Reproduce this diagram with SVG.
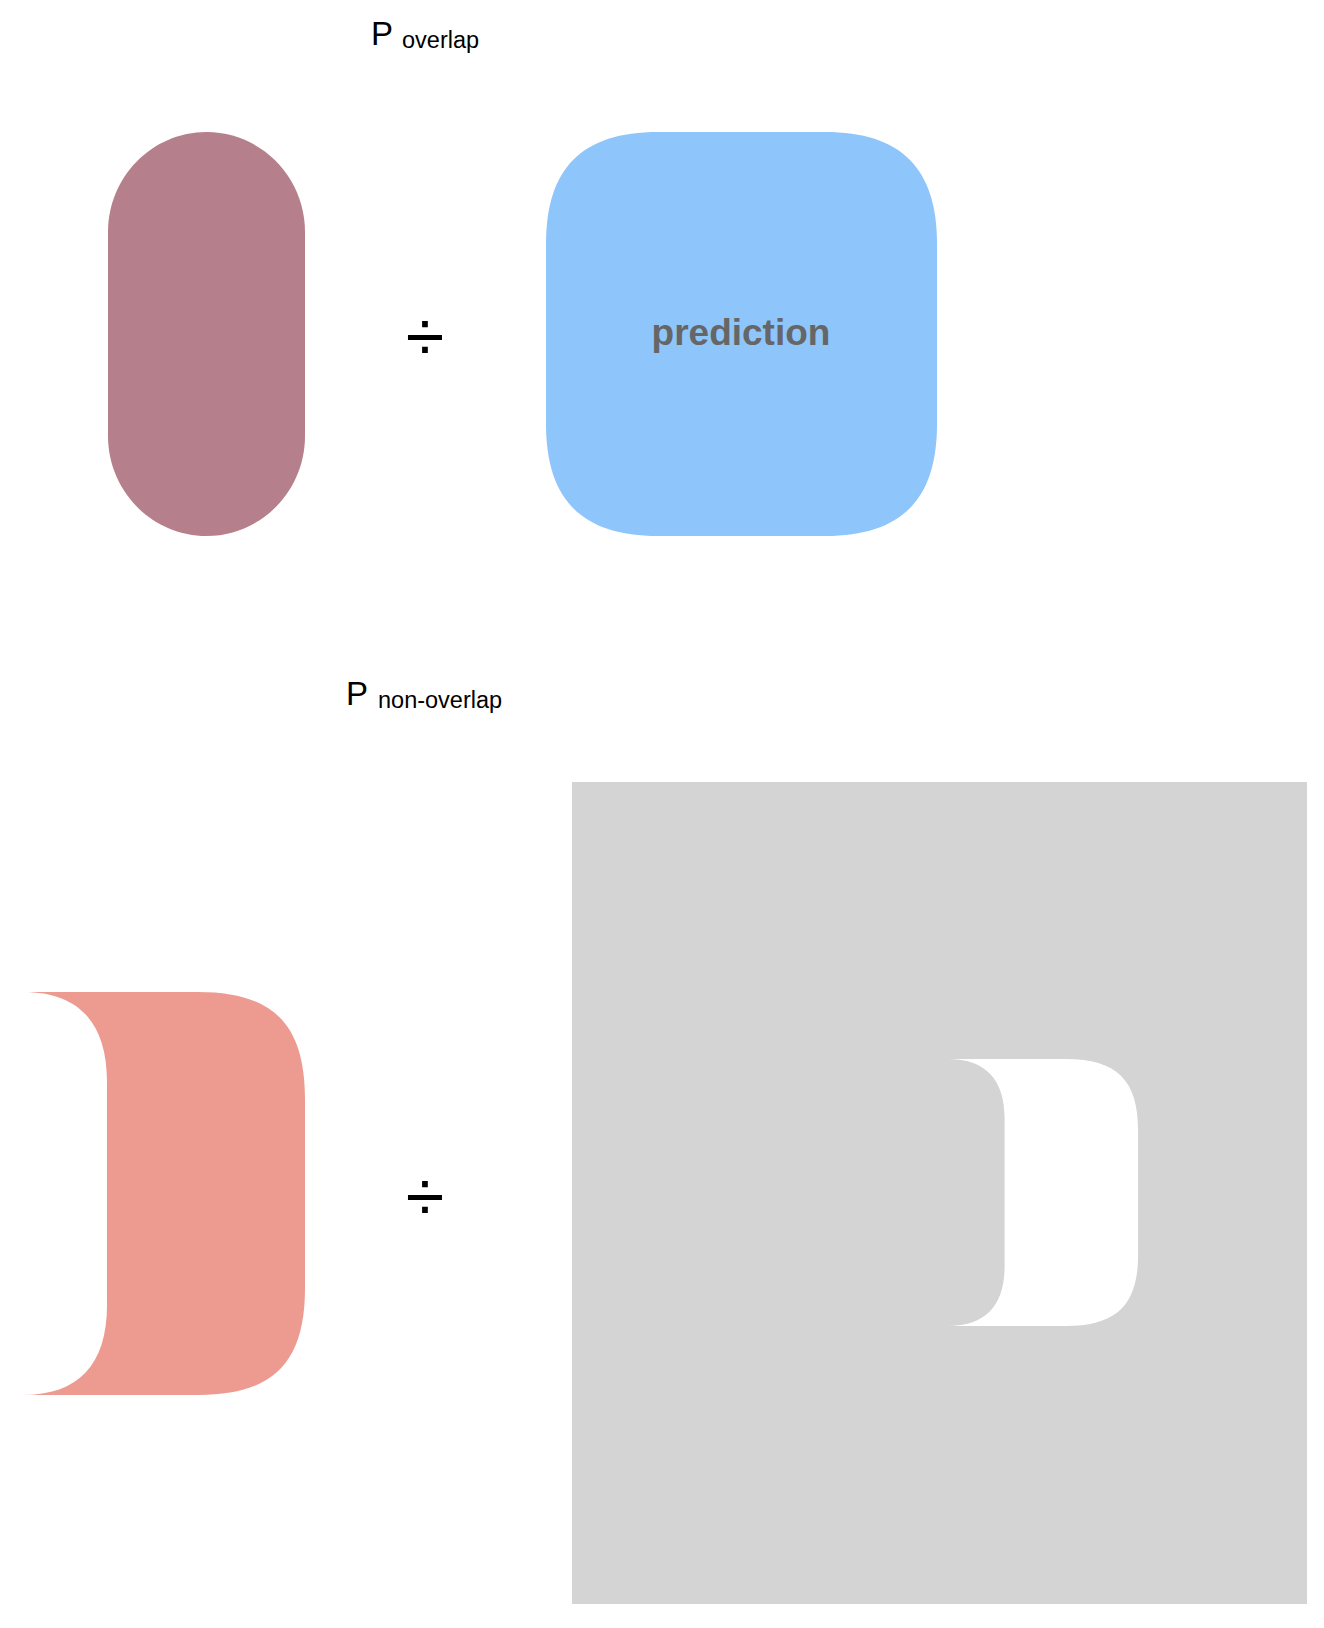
<svg xmlns="http://www.w3.org/2000/svg" width="1324" height="1628" viewBox="0 0 1324 1628">
<style>
  .t { font-family: "Liberation Sans", Arial, Helvetica, sans-serif; fill: #000; }
  .big { font-size: 33px; }
  .sub { font-size: 23.5px; }
  .div { font-size: 70px; text-anchor: middle; }
  .lbl { font-family: "Liberation Sans", Arial, Helvetica, sans-serif; font-size: 37px; font-weight: bold; fill: #666666; text-anchor: middle; }
</style>
<defs>
  <path id="crescent" d="M 23 992 L 198 992 C 273 992 305 1024 305 1099 L 305 1288 C 305 1363 273 1395 198 1395 L 23 1395 C 78 1395 107 1365 107 1305 L 107 1082 C 107 1022 78 992 23 992 Z"/>
</defs>
<rect width="1324" height="1628" fill="#ffffff"/>

<g id="title-overlap">
  <text class="t big" x="371" y="45">P</text>
  <text class="t sub" x="402" y="48">overlap</text>
</g>

<g id="overlap-region">
  <path d="M 206.5 132 C 261 132 305 177 305 232 L 305 436 C 305 491 261 536 206.5 536 C 152 536 108 491 108 436 L 108 232 C 108 177 152 132 206.5 132 Z" fill="#b57f8b"/>
</g>

<g id="divide-1">
  <text class="t div" x="425" y="361">÷</text>
</g>

<g id="prediction">
  <path d="M 658 132 L 825 132 C 901 132 937 168 937 244 L 937 424 C 937 500 901 536 825 536 L 658 536 C 582 536 546 500 546 424 L 546 244 C 546 168 582 132 658 132 Z" fill="#8ec5fa"/>
  <text class="lbl" x="741" y="345">prediction</text>
</g>

<g id="title-nonoverlap">
  <text class="t big" x="346" y="705">P</text>
  <text class="t sub" x="378" y="708">non-overlap</text>
</g>

<g id="nonoverlap-region">
  <use href="#crescent" fill="#ed9b90"/>
</g>

<g id="divide-2">
  <text class="t div" x="425" y="1221">÷</text>
</g>

<g id="non-prediction">
  <rect x="572" y="782" width="735" height="822" fill="#d4d4d4"/>
  <use href="#crescent" fill="#ffffff" transform="translate(948,1059) scale(0.674,0.6625) translate(-23,-992)"/>
</g>

<g id="connectors"></g>
</svg>
